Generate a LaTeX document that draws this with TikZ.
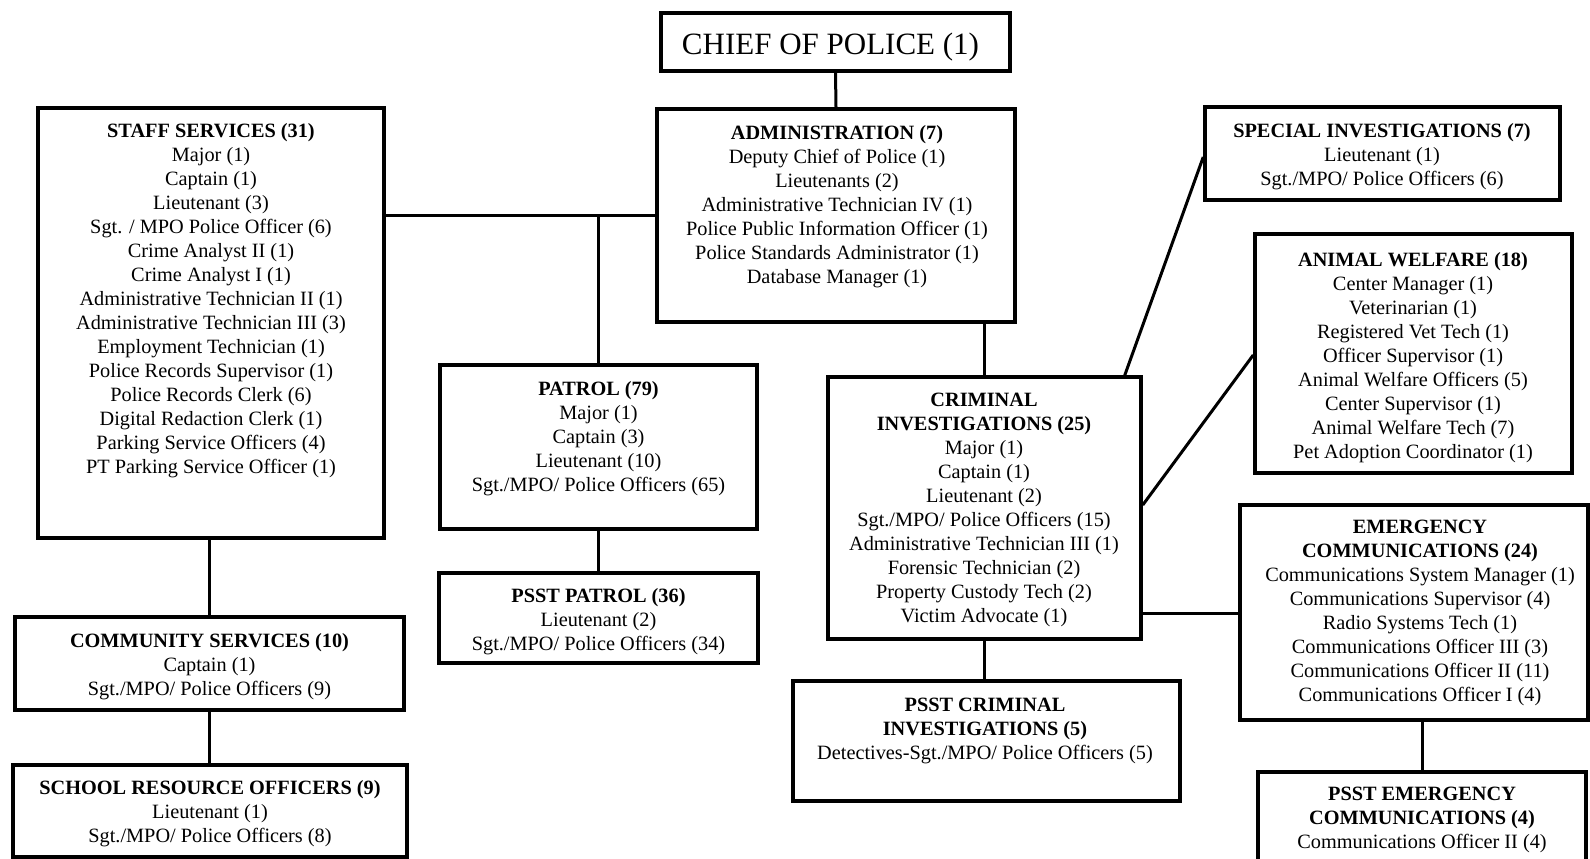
\documentclass[tikz,border=0pt]{standalone}
\usepackage{fontspec}
\setmainfont{Liberation Serif}
\begin{document}
\begin{tikzpicture}[x=1pt,y=-1pt,
  box/.style={draw, line width=3.5pt, inner sep=0pt},
  conn/.style={line width=3pt},
  txt/.style={anchor=north, align=center, inner sep=0pt, font=\fontsize{20.3}{24}\selectfont}]
\useasboundingbox (0,0) rectangle (1590,859);
\clip (0,0) rectangle (1590,859);
% boxes
\node[box, minimum width=349pt, minimum height=58pt] (chief) at (835.5,42) {};
\node[box, minimum width=346pt, minimum height=430pt] (staff) at (211,323) {};
\node[box, minimum width=358pt, minimum height=213pt] (admin) at (836,215.5) {};
\node[box, minimum width=317pt, minimum height=164pt] (patrol) at (598.5,447) {};
\node[box, minimum width=319pt, minimum height=90pt] (psstpatrol) at (598.5,618) {};
\node[box, minimum width=389pt, minimum height=93pt] (comm) at (209.5,663.5) {};
\node[box, minimum width=394pt, minimum height=92pt] (school) at (210,811) {};
\node[box, minimum width=313pt, minimum height=262pt] (ci) at (984.5,508) {};
\node[box, minimum width=387pt, minimum height=120pt] (psstci) at (986.5,741) {};
\node[box, minimum width=355pt, minimum height=93pt] (si) at (1382.5,153.5) {};
\node[box, minimum width=317pt, minimum height=239pt] (aw) at (1413.5,353.5) {};
\node[box, minimum width=348pt, minimum height=215pt] (ec) at (1414,612.5) {};
\node[box, minimum width=328pt, minimum height=108pt] (psstec) at (1422,826) {};
% texts
\node[inner sep=0pt, font=\fontsize{31}{36}\selectfont] (tchief) at (830.5,47) {CHIEF OF POLICE (1)};
\node[txt] (tstaff) at (211,123) {\textbf{STAFF SERVICES (31)}\\Major (1)\\Captain (1)\\Lieutenant (3)\\Sgt. / MPO Police Officer (6)\\Crime Analyst II (1)\\Crime Analyst I (1)\\Administrative Technician II (1)\\Administrative Technician III (3)\\Employment Technician (1)\\Police Records Supervisor (1)\\Police Records Clerk (6)\\Digital Redaction Clerk (1)\\Parking Service Officers (4)\\PT Parking Service Officer (1)};
\node[txt] (tadmin) at (837,125) {\textbf{ADMINISTRATION (7)}\\Deputy Chief of Police (1)\\Lieutenants (2)\\Administrative Technician IV (1)\\Police Public Information Officer (1)\\Police Standards Administrator (1)\\Database Manager (1)};
\node[txt] (tpatrol) at (598.5,381) {\textbf{PATROL (79)}\\Major (1)\\Captain (3)\\Lieutenant (10)\\Sgt./MPO/ Police Officers (65)};
\node[txt] (tpsstpatrol) at (598.5,588) {\textbf{PSST PATROL (36)}\\Lieutenant (2)\\Sgt./MPO/ Police Officers (34)};
\node[txt] (tcomm) at (209.5,633) {\textbf{COMMUNITY SERVICES (10)}\\Captain (1)\\Sgt./MPO/ Police Officers (9)};
\node[txt] (tschool) at (210,780) {\textbf{SCHOOL RESOURCE OFFICERS (9)}\\Lieutenant (1)\\Sgt./MPO/ Police Officers (8)};
\node[txt] (tci) at (984,393) {\textbf{CRIMINAL}\\\textbf{INVESTIGATIONS (25)}\\Major (1)\\Captain (1)\\Lieutenant (2)\\Sgt./MPO/ Police Officers (15)\\Administrative Technician III (1)\\Forensic Technician (2)\\Property Custody Tech (2)\\Victim Advocate (1)};
\node[txt] (tpsstci) at (985,698) {\textbf{PSST CRIMINAL}\\\textbf{INVESTIGATIONS (5)}\\Detectives-Sgt./MPO/ Police Officers (5)};
\node[txt] (tsi) at (1382,123) {\textbf{SPECIAL INVESTIGATIONS (7)}\\Lieutenant (1)\\Sgt./MPO/ Police Officers (6)};
\node[txt] (taw) at (1413,252) {\textbf{ANIMAL WELFARE (18)}\\Center Manager (1)\\Veterinarian (1)\\Registered Vet Tech (1)\\Officer Supervisor (1)\\Animal Welfare Officers (5)\\Center Supervisor (1)\\Animal Welfare Tech (7)\\Pet Adoption Coordinator (1)};
\node[txt] (tec) at (1420,520) {\textbf{EMERGENCY}\\\textbf{COMMUNICATIONS (24)}\\Communications System Manager (1)\\Communications Supervisor (4)\\Radio Systems Tech (1)\\Communications Officer III (3)\\Communications Officer II (11)\\Communications Officer I (4)};
\node[txt] (tpsstec) at (1422,787) {\textbf{PSST EMERGENCY}\\\textbf{COMMUNICATIONS (4)}\\Communications Officer II (4)};
% connectors
\coordinate (j1) at (598.5,215);
\coordinate (j2) at (1190,613);
\draw[conn] (chief.south) -- (admin.north);
\draw[conn] (staff.east |- j1) -- (admin.west |- j1);
\draw[conn] (j1) -- (patrol.north);
\draw[conn] (patrol.south) -- (psstpatrol.north);
\draw[conn] (staff.south -| comm.north) -- (comm.north);
\draw[conn] (comm.south) -- (comm.south |- school.north);
\draw[conn] (admin.south -| ci.north) -- (ci.north);
\draw[conn] (ci.south) -- (ci.south |- psstci.north);
\draw[conn] (ci.east |- j2) -- (ec.west |- j2);
\draw[conn] ([xshift=-18pt]ci.north east) -- ([yshift=-3.5pt]si.west);
\draw[conn] ([yshift=3pt]ci.east) -- ([yshift=-1.5pt]aw.west);
\draw[conn] (ec.south -| psstec.north) -- (psstec.north);
\end{tikzpicture}
\end{document}
